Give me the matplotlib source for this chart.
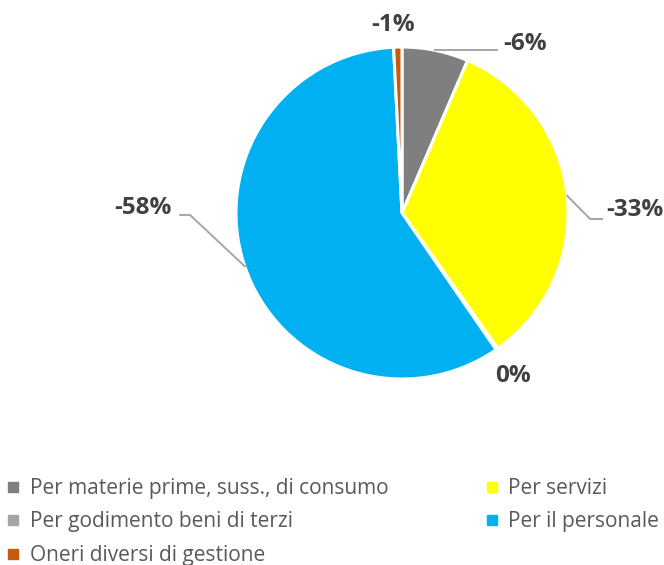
import matplotlib
matplotlib.use("Agg")
import matplotlib.pyplot as plt
from matplotlib.lines import Line2D
import numpy as np

# Cost composition (share of total, negative = cost)
categories = [
    "Per materie prime, suss., di consumo",
    "Per servizi",
    "Per godimento beni di terzi",
    "Per il personale",
    "Oneri diversi di gestione",
]
values = [-6.4, -33.4, -0.2, -58.2, -0.8]
colors = ["#7F7F7F", "#FFFF00", "#A5A5A5", "#00B0F0", "#C55A11"]

plt.rcParams["font.family"] = ["Open Sans", "DejaVu Sans"]

fig = plt.figure(figsize=(6.64, 5.65), dpi=100)
# pie axes: center ~ (402, 213) px, radius ~166 px
W, H = 664, 565
r_px = 166
cx, cy = 402, 213
ax = fig.add_axes([(cx - r_px) / W, (H - cy - r_px) / H, 2 * r_px / W, 2 * r_px / H])

wedges, _ = ax.pie(
    np.abs(values),
    colors=colors,
    startangle=90,
    counterclock=False,
    radius=1.0,
    wedgeprops=dict(edgecolor="white", linewidth=2.2),
)
ax.set_xlim(-1, 1)
ax.set_ylim(-1, 1)
ax.set_aspect("equal")
ax.axis("off")

# label layout: text anchor, alignment, elbow point, leader end x
label_layout = [
    dict(pos=(0.608, 1.018), ha="left", elbow=None, end=0.572),
    dict(pos=(1.228, 0.018), ha="left", elbow=(1.133, -0.036), end=1.205),
    dict(pos=(0.669, -0.98), ha="center", elbow=None, end=None),
    dict(pos=(-1.386, 0.03), ha="right", elbow=(-1.277, -0.012), end=-1.337),
    dict(pos=(-0.054, 1.13), ha="center", elbow=None, end=None),
]

lead_color = "#A6A6A6"
for w, v, lay in zip(wedges, values, label_layout):
    tx, ty = lay["pos"]
    ax.text(tx, ty, f"{round(v)}%", ha=lay["ha"], va="center",
            fontsize=17.5, fontweight="bold", color="#404040",
            clip_on=False)
    if lay["end"] is not None:
        mid = np.deg2rad((w.theta1 + w.theta2) / 2)
        px, py = np.cos(mid), np.sin(mid)
        if lay["elbow"] is None:
            xs = [px, lay["end"]]
            ys = [py, py]
        else:
            ex, ey = lay["elbow"]
            xs = [px, ex, lay["end"]]
            ys = [py, ey, ey]
        ax.add_line(Line2D(xs, ys, color=lead_color, lw=1.4, clip_on=False))

# legend, filled row by row
handles = [Line2D([], [], marker="s", linestyle="none", markersize=7.5,
                  markerfacecolor=c, markeredgecolor=c) for c in colors]
order = [0, 2, 4, 1, 3]
fig.legend([handles[i] for i in order], [categories[i] for i in order],
           loc="upper left", bbox_to_anchor=(6 / W, 1 - 478 / H),
           ncol=2, frameon=False, fontsize=15, labelcolor="#595959",
           handlelength=0.7, handletextpad=0.45, columnspacing=4.6,
           labelspacing=0.6, borderaxespad=0.0, borderpad=0.0)

fig.savefig("out.png", dpi=100, facecolor="white")
